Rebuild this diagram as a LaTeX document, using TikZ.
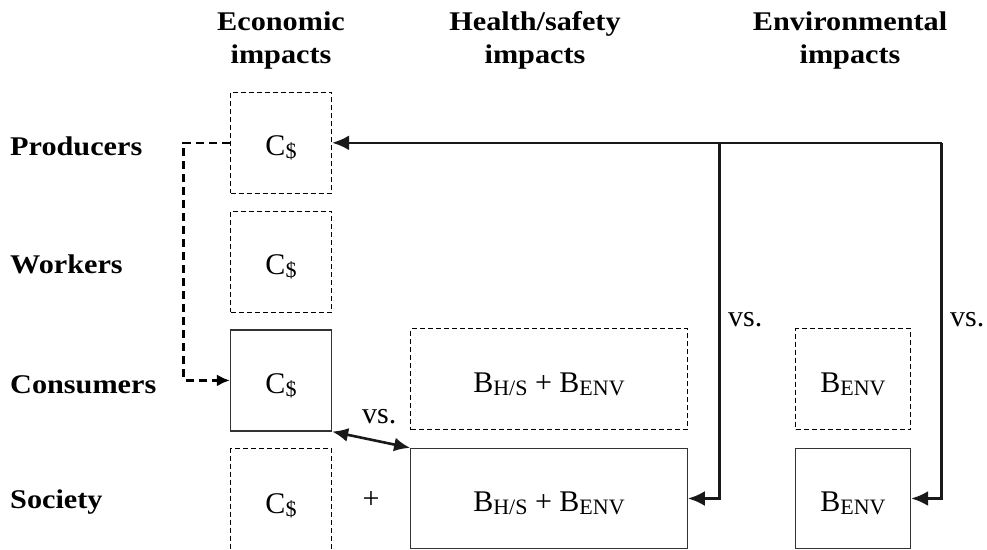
\documentclass[tikz,border=0pt]{standalone}
\usepackage{fontspec}
\setmainfont{Liberation Serif}
\newfontfamily\hdrfont[FakeStretch=1.12]{Liberation Serif}
\usetikzlibrary{arrows.meta}
\newcommand\subtxt[1]{\raisebox{-3pt}{\fontsize{22}{22}\selectfont #1}}
\begin{document}
\begin{tikzpicture}[x=1pt,y=-1pt,
  cell/.style={inner sep=0pt, minimum height=101pt, text height=26pt, text depth=0pt, font=\fontsize{30}{30}\selectfont},
  solidcell/.style={cell, draw=black!80, line width=1.3pt},
  dashcell/.style={cell, draw=black, line width=1.2pt, dash pattern=on 5pt off 3pt},
  hdr/.style={font=\hdrfont\bfseries\fontsize{27}{33}\selectfont, align=center, inner sep=0pt, anchor=base},
  lbl/.style={font=\hdrfont\bfseries\fontsize{27}{33}\selectfont, anchor=base west, inner sep=0pt},
  txt/.style={font=\fontsize{30}{30}\selectfont, inner sep=0pt},
  conn/.style={draw=black!90, line width=2.6pt},
  dconn/.style={draw=black, line width=2.4pt, dash pattern=on 8pt off 5pt},
  tip/.style={-{Latex[length=17pt,width=15pt]}},
]
\clip (0,0) rectangle (987,549);
\useasboundingbox (0,0) rectangle (987,549);
% headers
\node[hdr] (h1) at (281,63) {Economic\\impacts};
\node[hdr] (h2) at (535,63) {Health/safety\\impacts};
\node[hdr] (h3) at (850,63) {Environmental\\impacts};
% row labels
\node[lbl] (rp) at (10,155) {Producers};
\node[lbl] (rw) at (10,273) {Workers};
\node[lbl] (rc) at (10,393) {Consumers};
\node[lbl] (rs) at (10,508) {Society};
% boxes
\node[dashcell, minimum width=101pt] (pc) at (281,142.8) {C\subtxt{\$}};
\node[dashcell, minimum width=101pt] (wc) at (281,261.7) {C\subtxt{\$}};
\node[solidcell, minimum width=101pt] (cc) at (281,380.4) {C\subtxt{\$}};
\node[dashcell, minimum width=101pt, minimum height=103pt] (sc) at (281,500) {C\subtxt{\$}};
\node[dashcell, minimum width=276.5pt] (chs) at (549,379) {B\subtxt{H/S} + B\subtxt{ENV}};
\node[solidcell, minimum width=276.5pt, minimum height=100pt] (shs) at (549,498.5) {B\subtxt{H/S} + B\subtxt{ENV}};
\node[dashcell, minimum width=115pt] (cenv) at (853,379) {B\subtxt{ENV}};
\node[solidcell, minimum width=115pt, minimum height=100pt] (senv) at (853,498.5) {B\subtxt{ENV}};
% text labels
\node[txt, anchor=base] (plus) at (371,508) {+};
\node[txt, anchor=base west] (vs1) at (728,326) {vs.};
\node[txt, anchor=base west] (vs2) at (950,326) {vs.};
\node[txt, anchor=base west] (vs3) at (362,423) {vs.};
% connectors
\coordinate (dl) at (183.5,142.8);
\coordinate (tm) at (719.7,142.8);
\coordinate (tr) at (941.7,142.8);
\draw[dconn, -{Latex[length=13pt,width=12pt]}] (pc.west) -- (dl) |- (cc.west);
\draw[conn, tip] (tr) -- (pc.east);
\draw[conn, tip] (tm) |- (shs.east);
\draw[conn, tip] (tr) |- (senv.east);
\draw[conn, {Latex[length=16pt,width=14pt]}-{Latex[length=16pt,width=14pt]}] (cc.south east) -- (shs.north west);
\end{tikzpicture}
\end{document}
